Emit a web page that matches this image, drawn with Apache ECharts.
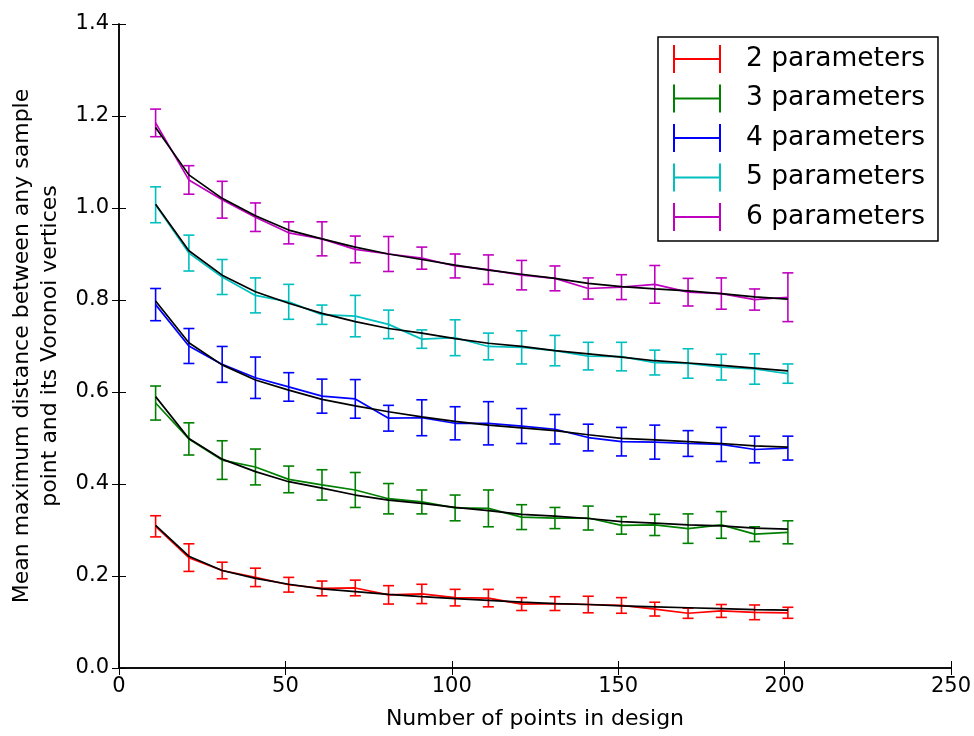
<!DOCTYPE html>
<html>
<head>
<meta charset="utf-8">
<script src="https://cdn.jsdelivr.net/npm/echarts@6/dist/echarts.min.js"></script>
<style>
html,body{margin:0;padding:0;background:#fff;}
#chart{width:974px;height:736px;}
</style>
</head>
<body>
<div id="chart"></div>
<script>
// ---- data ----
const xs = [11, 21, 31, 41, 51, 61, 71, 81, 91, 101, 111, 121, 131, 141, 151, 161, 171, 181, 191, 201];

const seriesNames = ['2 parameters', '3 parameters', '4 parameters', '5 parameters', '6 parameters'];

const mean2 = [0.308, 0.240, 0.212, 0.197, 0.181, 0.173, 0.174, 0.159, 0.161, 0.153, 0.152, 0.139, 0.140, 0.138, 0.136, 0.128, 0.119, 0.124, 0.121, 0.120];
const err2  = [0.023, 0.030, 0.018, 0.020, 0.016, 0.016, 0.017, 0.020, 0.021, 0.018, 0.019, 0.014, 0.015, 0.018, 0.017, 0.015, 0.011, 0.014, 0.016, 0.012];
const fit2  = [0.310, 0.243, 0.212, 0.195, 0.182, 0.172, 0.166, 0.160, 0.155, 0.151, 0.147, 0.143, 0.140, 0.138, 0.135, 0.133, 0.131, 0.129, 0.127, 0.126];

const mean3 = [0.576, 0.498, 0.452, 0.437, 0.410, 0.398, 0.387, 0.368, 0.361, 0.348, 0.347, 0.328, 0.326, 0.326, 0.310, 0.311, 0.303, 0.311, 0.291, 0.295];
const err3  = [0.037, 0.035, 0.042, 0.039, 0.029, 0.033, 0.038, 0.033, 0.026, 0.028, 0.040, 0.027, 0.023, 0.026, 0.019, 0.023, 0.032, 0.029, 0.016, 0.025];
const fit3  = [0.590, 0.499, 0.454, 0.427, 0.405, 0.391, 0.376, 0.365, 0.358, 0.349, 0.342, 0.334, 0.330, 0.325, 0.318, 0.315, 0.311, 0.309, 0.304, 0.302];

const mean4 = [0.790, 0.700, 0.660, 0.631, 0.611, 0.591, 0.585, 0.543, 0.544, 0.532, 0.532, 0.526, 0.519, 0.501, 0.492, 0.491, 0.488, 0.486, 0.475, 0.478];
const err4  = [0.035, 0.038, 0.039, 0.045, 0.031, 0.037, 0.042, 0.028, 0.039, 0.036, 0.047, 0.038, 0.032, 0.029, 0.031, 0.037, 0.028, 0.037, 0.029, 0.026];
const fit4  = [0.798, 0.707, 0.659, 0.626, 0.604, 0.584, 0.570, 0.557, 0.546, 0.536, 0.528, 0.522, 0.516, 0.507, 0.499, 0.496, 0.492, 0.488, 0.483, 0.480];

const mean5 = [1.007, 0.902, 0.850, 0.810, 0.796, 0.768, 0.765, 0.747, 0.715, 0.718, 0.699, 0.697, 0.690, 0.678, 0.677, 0.664, 0.662, 0.654, 0.650, 0.640];
const err5  = [0.039, 0.039, 0.038, 0.038, 0.038, 0.021, 0.045, 0.031, 0.020, 0.039, 0.029, 0.036, 0.033, 0.030, 0.031, 0.027, 0.032, 0.028, 0.033, 0.021];
const fit5  = [1.008, 0.907, 0.854, 0.818, 0.793, 0.771, 0.753, 0.738, 0.728, 0.716, 0.706, 0.699, 0.690, 0.683, 0.676, 0.668, 0.663, 0.658, 0.652, 0.646];

const mean6 = [1.185, 1.061, 1.018, 0.980, 0.946, 0.933, 0.910, 0.900, 0.891, 0.874, 0.866, 0.854, 0.847, 0.825, 0.828, 0.834, 0.817, 0.814, 0.801, 0.806];
const err6  = [0.030, 0.031, 0.040, 0.031, 0.024, 0.037, 0.029, 0.038, 0.024, 0.026, 0.032, 0.032, 0.027, 0.023, 0.027, 0.041, 0.030, 0.034, 0.023, 0.053];
const fit6  = [1.175, 1.072, 1.021, 0.983, 0.952, 0.933, 0.915, 0.900, 0.888, 0.876, 0.865, 0.856, 0.847, 0.836, 0.829, 0.824, 0.820, 0.814, 0.807, 0.802];

const xTicks = [0, 50, 100, 150, 200, 250];
const yTicks = [0.0, 0.2, 0.4, 0.6, 0.8, 1.0, 1.2, 1.4];

// ---- styling ----
const colors = ['#ff0000', '#008000', '#0000ff', '#00bfbf', '#bf00bf'];
const means = [mean2, mean3, mean4, mean5, mean6];
const errs = [err2, err3, err4, err5, err6];
const fits = [fit2, fit3, fit4, fit5, fit6];
const FONT = 'DejaVu Sans';
const H_ICON = 'path://M0,0H2V13H46V0H48V28H46V15H2V28H0Z';

const series = [];
for (let i = 0; i < 5; i++) {
  const col = colors[i];
  series.push({
    name: seriesNames[i], type: 'line', xAxisIndex: 0, yAxisIndex: 0,
    data: xs.map((x, k) => [x, means[i][k]]),
    showSymbol: false, symbol: 'none',
    lineStyle: { color: col, width: 1.7 },
    itemStyle: { color: col },
    z: 2 + i * 3
  });
  series.push({
    name: seriesNames[i], type: 'custom', xAxisIndex: 0, yAxisIndex: 0,
    data: xs.map((x, k) => [x, means[i][k] - errs[i][k], means[i][k] + errs[i][k]]),
    encode: { x: 0, y: [1, 2] },
    itemStyle: { color: col },
    renderItem: function (params, api) {
      const x = api.value(0);
      const p1 = api.coord([x, api.value(2)]);
      const p2 = api.coord([x, api.value(1)]);
      const cw = 5.5;
      const st = { stroke: col, lineWidth: 1.6 };
      return {
        type: 'group',
        children: [
          { type: 'line', shape: { x1: p1[0], y1: p1[1], x2: p2[0], y2: p2[1] }, style: st },
          { type: 'line', shape: { x1: p1[0] - cw, y1: p1[1], x2: p1[0] + cw, y2: p1[1] }, style: st },
          { type: 'line', shape: { x1: p2[0] - cw, y1: p2[1], x2: p2[0] + cw, y2: p2[1] }, style: st }
        ]
      };
    },
    z: 3 + i * 3
  });
  series.push({
    name: 'fit ' + seriesNames[i], type: 'line', xAxisIndex: 0, yAxisIndex: 0,
    data: xs.map((x, k) => [x, fits[i][k]]),
    showSymbol: false, symbol: 'none',
    lineStyle: { color: '#000000', width: 1.7 },
    itemStyle: { color: '#000000' },
    z: 4 + i * 3
  });
}

const axisLine = { show: true, lineStyle: { color: '#000', width: 1.5 } };
const tick = { show: true, inside: true, length: 7, lineStyle: { color: '#000', width: 1 } };

const option = {
  animation: false,
  backgroundColor: '#ffffff',
  grid: { left: 119, right: 22, top: 24, bottom: 68, containLabel: false },
  xAxis: [
    {
      type: 'value', position: 'bottom', min: xTicks[0], max: xTicks[xTicks.length - 1], interval: 50,
      axisLine: axisLine, axisTick: tick, splitLine: { show: false },
      axisLabel: { color: '#000', fontFamily: FONT, fontSize: 21, margin: 8 },
      name: 'Number of points in design', nameLocation: 'middle', nameGap: 40,
      nameTextStyle: { color: '#000', fontFamily: FONT, fontSize: 22, verticalAlign: 'top' }
    },
    {
      type: 'value', position: 'top', min: xTicks[0], max: xTicks[xTicks.length - 1], interval: 50,
      axisLine: axisLine, axisTick: tick, splitLine: { show: false }, axisLabel: { show: false }
    }
  ],
  yAxis: [
    {
      type: 'value', position: 'left', min: yTicks[0], max: yTicks[yTicks.length - 1], interval: 0.2,
      axisLine: axisLine, axisTick: tick, splitLine: { show: false },
      axisLabel: { color: '#000', fontFamily: FONT, fontSize: 21, margin: 10, formatter: v => v.toFixed(1) },
      name: 'Mean maximum distance between any sample\npoint and its Voronoi vertices',
      nameLocation: 'middle', nameGap: 36, nameRotate: 90,
      nameTextStyle: { color: '#000', fontFamily: FONT, fontSize: 22, lineHeight: 28, align: 'center', verticalAlign: 'bottom' }
    },
    {
      type: 'value', position: 'right', min: yTicks[0], max: yTicks[yTicks.length - 1], interval: 0.2,
      axisLine: axisLine, axisTick: tick, splitLine: { show: false }, axisLabel: { show: false }
    }
  ],
  legend: {
    orient: 'vertical', left: 658, top: 37,
    backgroundColor: '#ffffff', borderColor: '#000', borderWidth: 1.5, borderRadius: 0,
    padding: [8, 13, 10, 15], itemGap: 11.5, itemWidth: 48, itemHeight: 28,
    textStyle: { color: '#000', fontFamily: FONT, fontSize: 26.5, padding: [0, 0, 0, 20] },
    data: seriesNames.map((n, i) => ({ name: n, icon: H_ICON, itemStyle: { color: colors[i] } }))
  },
  series: series
};

const chart = echarts.init(document.getElementById('chart'), null, { renderer: 'canvas' });
chart.setOption(option);
</script>
</body>
</html>
